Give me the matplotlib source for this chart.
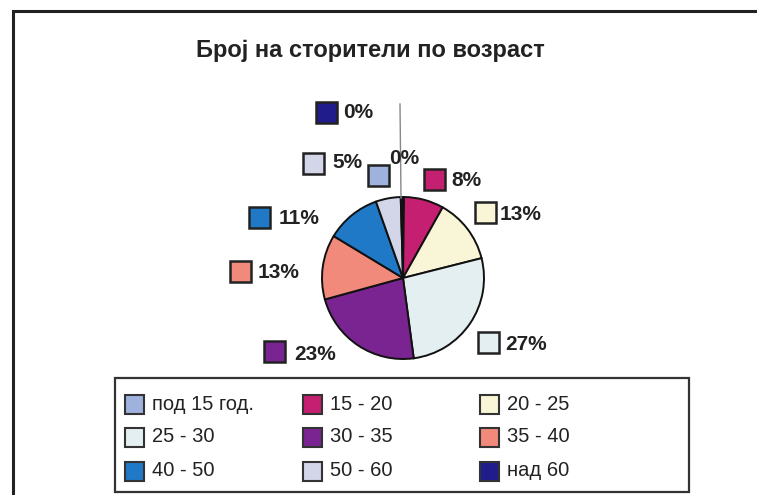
import matplotlib
matplotlib.use("Agg")
import matplotlib.pyplot as plt
from matplotlib.patches import Rectangle
from matplotlib.lines import Line2D

# ---- data ----
title = "Број на сторители по возраст"
categories = ["под 15 год.", "15 - 20", "20 - 25", "25 - 30", "30 - 35",
              "35 - 40", "40 - 50", "50 - 60", "над 60"]
shares = [0.2, 8, 13, 27, 23, 13, 11, 5, 0.45]
colors = ["#9fb1dd", "#c41f70", "#f8f6d6", "#e3eff0", "#7a2491",
          "#f28a7c", "#1f79c6", "#d2d6e8", "#201c8c"]

# ---- layout (pixel positions) ----
W, H = 757, 495
pie_center = (403, 278)
pie_radius = 81
# (square centre x, square centre y, text left x, text centre y)
label_pos = [
    (378, 175, 389, 159),
    (434, 179, 451, 181),
    (485, 212, 500, 214),
    (488, 342, 505, 345),
    (274, 351, 294, 354),
    (240, 271, 258, 273),
    (259, 217, 279, 218),
    (313, 163, 332, 163),
    (326, 112, 343, 112),
]
legend_cols_x = [125, 303, 480]
legend_rows_y = [404, 437, 471]


def Y(y):
    return H - y


fig = plt.figure(figsize=(W / 100, H / 100), dpi=100)
fig.patch.set_facecolor("white")
ax = fig.add_axes([0, 0, 1, 1])

font = ["Liberation Sans", "DejaVu Sans"]

# pie
total = sum(shares)
ax.pie(shares, colors=colors, startangle=90, counterclock=False,
       center=(pie_center[0], Y(pie_center[1])), radius=pie_radius,
       wedgeprops=dict(edgecolor="#111111", linewidth=1.4), frame=True)
ax.set_xlim(0, W)
ax.set_ylim(0, H)
ax.set_aspect("auto")
ax.axis("off")

# outer frame
ax.add_patch(Rectangle((12.5, -20), W + 40, Y(11) + 20, fill=False,
                       edgecolor="#222222", linewidth=2.2, zorder=1))

# title
ax.text(370, Y(51), title, ha="center", va="center", fontsize=17,
        fontweight="bold", family=font, color="#222222")

# leader line for the top label
ax.add_line(Line2D([400, 401], [Y(104), Y(198)], color="#888888",
                   linewidth=1.0, zorder=2))

# data labels
sq = 21
for v, c, (sx, sy, tx, ty) in zip(shares, colors, label_pos):
    ax.add_patch(Rectangle((sx - sq / 2, Y(sy) - sq / 2), sq, sq,
                           facecolor=c, edgecolor="#222222", linewidth=1.8,
                           zorder=4))
    ax.text(tx, Y(ty), f"{round(v / total * 100)}%", ha="left", va="center",
            fontsize=15, fontweight="bold", family=font, color="#222222",
            zorder=5)

# legend box
ax.add_patch(Rectangle((115, Y(492)), 574, 492 - 378, facecolor="white",
                       edgecolor="#333333", linewidth=1.6, zorder=3))
lsq = 19
for i, (name, c) in enumerate(zip(categories, colors)):
    r, col = divmod(i, 3)
    x = legend_cols_x[col]
    y = legend_rows_y[r]
    ax.add_patch(Rectangle((x, Y(y) - lsq / 2), lsq, lsq, facecolor=c,
                           edgecolor="#333333", linewidth=1.5, zorder=4))
    ax.text(x + 27, Y(y), name, ha="left", va="center", fontsize=14.5,
            family=font, color="#222222", zorder=5)

fig.savefig("out.png", dpi=100, facecolor="white")
